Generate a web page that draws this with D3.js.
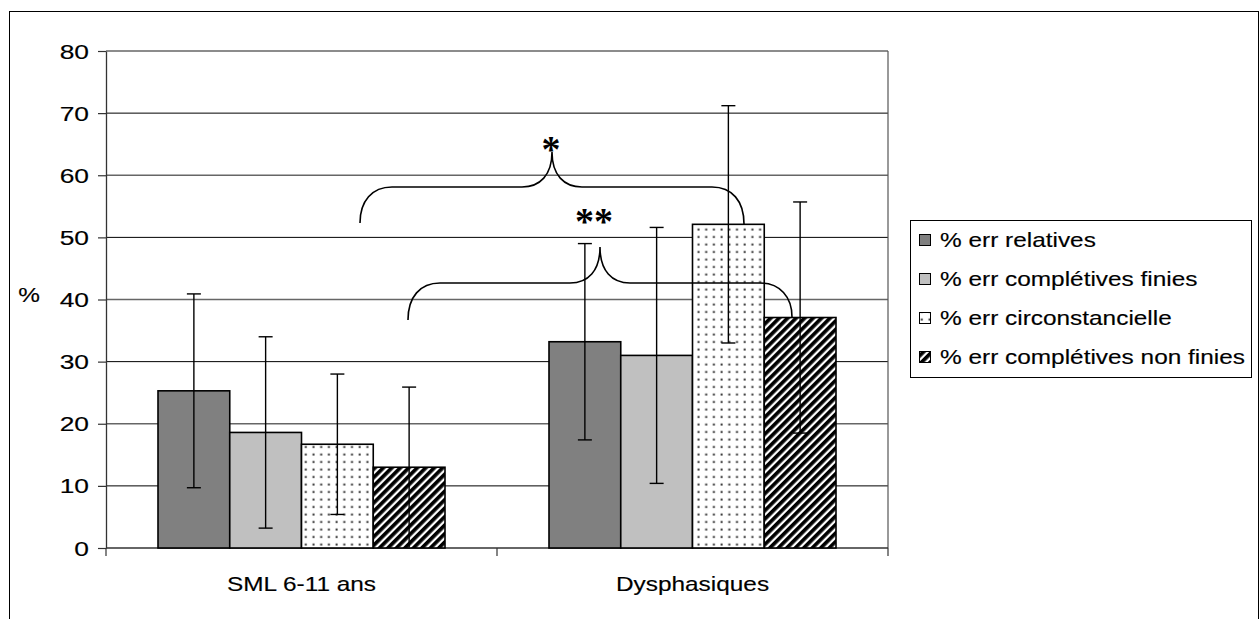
<!DOCTYPE html>
<html>
<head>
<meta charset="utf-8">
<script src="https://cdn.jsdelivr.net/npm/d3@7"></script>
<style>
  html, body { margin: 0; padding: 0; background: #fff; }
  svg { display: block; }
  text { font-family: "Liberation Sans", Arial, sans-serif; fill: #000; stroke: #000; stroke-width: 0.15px; }
</style>
</head>
<body>
<script>
// ---- data ----
const categories = ["SML 6-11 ans", "Dysphasiques"];
const seriesNames = ["% err relatives", "% err complétives finies", "% err circonstancielle", "% err complétives non finies"];
const relatives = [25.3, 33.2];
const relativesErr = [15.6, 15.8];
const completivesFinies = [18.6, 31.0];
const completivesFiniesErr = [15.4, 20.6];
const circonstancielle = [16.7, 52.1];
const circonstancielleErr = [11.3, 19.1];
const nonFinies = [13.0, 37.1];
const nonFiniesErr = [12.9, 18.6];
const yTicks = [0, 10, 20, 30, 40, 50, 60, 70, 80];
const yLabel = "%";
const significance = ["*", "**"];

const seriesValues = [relatives, completivesFinies, circonstancielle, nonFinies];
const seriesErrs = [relativesErr, completivesFiniesErr, circonstancielleErr, nonFiniesErr];

// ---- layout ----
const W = 1260, H = 619;
const pLeft = 106, pRight = 888, pTop = 51, pBottom = 548;
const SX = 1.22; // horizontal text stretch of the original
const FS = 20;

const svg = d3.select("body").append("svg").attr("width", W).attr("height", H);

const defs = svg.append("defs");
const dots = defs.append("pattern").attr("id", "dots").attr("patternUnits", "userSpaceOnUse")
  .attr("width", 7.7).attr("height", 7.5).attr("x", 2).attr("y", 1);
dots.append("rect").attr("width", 7.7).attr("height", 7.5).attr("fill", "#fff");
dots.append("rect").attr("x", 2.5).attr("y", 2.5).attr("width", 2).attr("height", 2).attr("fill", "#333");

const hatch = defs.append("pattern").attr("id", "hatch").attr("patternUnits", "userSpaceOnUse")
  .attr("width", 6).attr("height", 10).attr("patternTransform", "rotate(45)");
hatch.append("rect").attr("width", 6).attr("height", 10).attr("fill", "#fff");
hatch.append("rect").attr("width", 3.7).attr("height", 10).attr("fill", "#000");

const fills = ["#808080", "#c0c0c0", "url(#dots)", "url(#hatch)"];

// outer border
svg.append("rect").attr("x", 9.5).attr("y", 11.5).attr("width", 1249).attr("height", 700)
  .attr("fill", "none").attr("stroke", "#000").attr("stroke-width", 1);

function addText(x, y, str, anchor, size, sx) {
  return svg.append("text")
    .attr("transform", `translate(${x},${y}) scale(${sx === undefined ? SX : sx},1)`)
    .attr("text-anchor", anchor)
    .style("font-size", (size || FS) + "px")
    .text(str);
}

// scales
const x0 = d3.scaleBand().domain(categories).range([pLeft, pRight]).paddingInner(0.266).paddingOuter(0.133);
const x1 = d3.scaleBand().domain(seriesNames).range([0, x0.bandwidth()]);
const y = d3.scaleLinear().domain([0, 80]).range([pBottom, pTop]);

// gridlines
svg.append("g").selectAll("line").data(yTicks.filter(d => d > 0)).join("line")
  .attr("x1", pLeft).attr("x2", pRight).attr("y1", d => y(d)).attr("y2", d => y(d))
  .attr("stroke", d => (d % 20 === 0 ? "#666" : "#000")).attr("stroke-width", d => (d % 20 === 0 ? 1.6 : 1));
// plot area right border
svg.append("line").attr("x1", pRight).attr("x2", pRight).attr("y1", pTop).attr("y2", pBottom)
  .attr("stroke", "#555").attr("stroke-width", 1.2);

// y axis
const yAxis = svg.append("g").attr("transform", `translate(${pLeft},0)`)
  .call(d3.axisLeft(y).tickValues(yTicks).tickSize(8).tickSizeOuter(0).tickFormat(d3.format("d")));
yAxis.select(".domain").attr("stroke", "#333").attr("stroke-width", 1.3);
yAxis.selectAll(".tick line").attr("stroke", "#333").attr("stroke-width", 1.2);
yAxis.selectAll(".tick text")
  .attr("x", null).attr("dy", null)
  .attr("transform", `translate(-17,7) scale(1.32,1)`)
  .style("font-size", FS + "px").style("font-family", '"Liberation Sans", Arial, sans-serif')
  .attr("fill", "#000").attr("stroke", "#000").attr("stroke-width", 0.15);

// x axis
const xAxisLine = svg.append("g");
xAxisLine.append("line").attr("x1", pLeft).attr("x2", pRight).attr("y1", pBottom).attr("y2", pBottom)
  .attr("stroke", "#333").attr("stroke-width", 1.3);
const boundaries = [pLeft, (x0(categories[0]) + x0.bandwidth() + x0(categories[1])) / 2, pRight];
xAxisLine.selectAll(".bt").data(boundaries).join("line").attr("class", "bt")
  .attr("x1", d => d).attr("x2", d => d).attr("y1", pBottom).attr("y2", pBottom + 8)
  .attr("stroke", "#333").attr("stroke-width", 1.2);
categories.forEach(c => addText(x0(c) + x0.bandwidth() / 2, 591, c, "middle"));

// y label
addText(29, 302, yLabel, "middle");

// bars
const bars = [];
seriesNames.forEach((s, si) => {
  categories.forEach((c, ci) => {
    bars.push({ s, si, c, v: seriesValues[si][ci], e: seriesErrs[si][ci] });
  });
});
svg.append("g").selectAll("rect").data(bars).join("rect")
  .attr("x", d => x0(d.c) + x1(d.s))
  .attr("y", d => y(d.v))
  .attr("width", x1.bandwidth())
  .attr("height", d => y(0) - y(d.v))
  .attr("fill", d => fills[d.si])
  .attr("stroke", "#000").attr("stroke-width", 1.6);

// error bars
const eg = svg.append("g").attr("stroke", "#000").attr("stroke-width", 1.4);
bars.forEach(d => {
  const cx = x0(d.c) + x1(d.s) + x1.bandwidth() / 2;
  eg.append("line").attr("x1", cx).attr("x2", cx).attr("y1", y(d.v + d.e)).attr("y2", y(Math.max(0, d.v - d.e)));
  eg.append("line").attr("x1", cx - 7).attr("x2", cx + 7).attr("y1", y(d.v + d.e)).attr("y2", y(d.v + d.e));
  if (d.v - d.e > 0.5) eg.append("line").attr("x1", cx - 7).attr("x2", cx + 7).attr("y1", y(d.v - d.e)).attr("y2", y(d.v - d.e));
});

// braces (significance)
const bg = svg.append("g").attr("fill", "none").attr("stroke", "#000").attr("stroke-width", 1.6);
function brace(xl, yl, xm, ym, xr, yr, yh) {
  const p = d3.path();
  p.moveTo(xl, yl);
  p.bezierCurveTo(xl, yh + 14, xl + 12, yh, xl + 32, yh);
  p.lineTo(xm - 30, yh);
  p.bezierCurveTo(xm - 12, yh, xm, yh - 12, xm, ym);
  p.bezierCurveTo(xm, yh - 12, xm + 12, yh, xm + 30, yh);
  p.lineTo(xr - 32, yh);
  p.bezierCurveTo(xr - 12, yh, xr, yh + 14, xr, yr);
  bg.append("path").attr("d", p.toString());
}
brace(360, 223, 552, 152, 744, 224, 187);
brace(408, 320, 600, 247, 792, 317, 283);

svg.append("text").attr("x", 551).attr("y", 162).attr("text-anchor", "middle")
  .style("font-family", '"Liberation Serif", "Times New Roman", serif').style("font-size", "38px")
  .style("font-weight", "bold").style("stroke-width", "0").text(significance[0]);
svg.append("text").attr("x", 594).attr("y", 234).attr("text-anchor", "middle")
  .style("font-family", '"Liberation Serif", "Times New Roman", serif').style("font-size", "38px")
  .style("font-weight", "bold").style("stroke-width", "0").text(significance[1]);

// legend
const lg = svg.append("g");
lg.append("rect").attr("x", 910.5).attr("y", 220.5).attr("width", 341).attr("height", 157)
  .attr("fill", "#fff").attr("stroke", "#000").attr("stroke-width", 1);
seriesNames.forEach((s, i) => {
  const cy = 240 + i * 39;
  lg.append("rect").attr("x", 919.5).attr("y", cy - 5.5).attr("width", 11).attr("height", 11)
    .attr("fill", fills[i]).attr("stroke", "#000").attr("stroke-width", 1);
  addText(940, cy + 7, s, "start");
});
</script>
</body>
</html>
